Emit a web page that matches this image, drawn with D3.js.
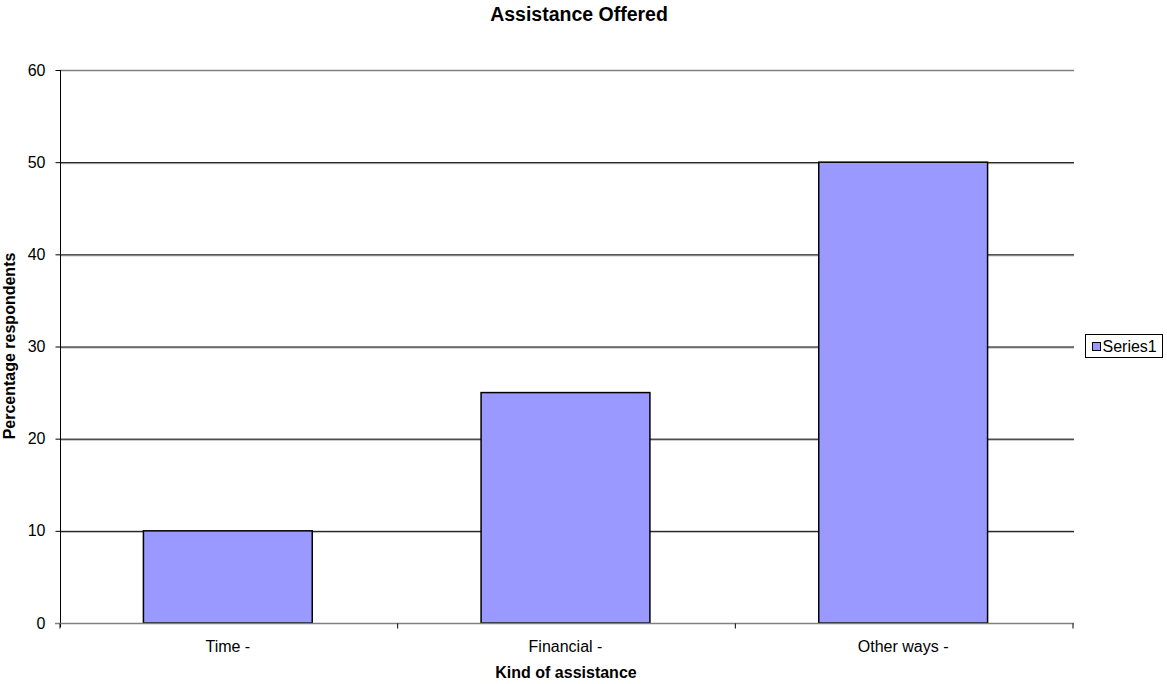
<!DOCTYPE html>
<html>
<head>
<meta charset="utf-8">
<script src="https://cdn.jsdelivr.net/npm/d3@7"></script>
<style>
  body { margin: 0; background: #fff; }
  text { font-family: "Liberation Sans", Arial, sans-serif; }
</style>
</head>
<body>
<script>
let w = 1167;
let h = 684;

let categories = ["Time -", "Financial -", "Other ways -"];
let values = [10, 25, 50];
let yTicks = [0, 10, 20, 30, 40, 50, 60];
let seriesName = "Series1";

let plotLeft = 60, plotRight = 1073, plotTop = 70, plotBottom = 623;

let svg = d3.select("body")
  .append("svg")
  .attr("width", w)
  .attr("height", h);

let xScale = d3.scaleBand()
  .domain(categories)
  .range([plotLeft, plotRight])
  .paddingInner(0.5)
  .paddingOuter(0.25);

let yScale = d3.scaleLinear()
  .domain([0, 60])
  .range([plotBottom, plotTop]);

// gridlines (black with a soft grey edge under them)
svg.selectAll("line.gridshadow")
  .data(yTicks.filter(d => d > 0 && d < 60))
  .enter()
  .append("line")
  .attr("class", "gridshadow")
  .attr("x1", plotLeft)
  .attr("x2", plotRight + 1)
  .attr("y1", d => yScale(d) + 1.5)
  .attr("y2", d => yScale(d) + 1.5)
  .attr("stroke", "#b0b0b0")
  .attr("stroke-width", 1);

svg.selectAll("line.grid")
  .data(yTicks.filter(d => d > 0))
  .enter()
  .append("line")
  .attr("class", "grid")
  .attr("x1", plotLeft)
  .attr("x2", plotRight + 1)
  .attr("y1", d => yScale(d) + 0.5)
  .attr("y2", d => yScale(d) + 0.5)
  .attr("stroke", d => d == 60 ? "#808080" : "#000")
  .attr("stroke-width", d => d == 60 ? 1.5 : 1);

// bars
svg.selectAll("rect.bar")
  .data(values)
  .enter()
  .append("rect")
  .attr("class", "bar")
  .attr("x", (d, i) => xScale(categories[i]) - 1)
  .attr("y", d => yScale(d))
  .attr("width", xScale.bandwidth())
  .attr("height", d => yScale(0) - yScale(d))
  .attr("fill", "#9999ff")
  .attr("stroke", "#000")
  .attr("stroke-width", 1.5);

// y axis
let yAxis = d3.axisLeft(yScale)
  .tickValues(yTicks)
  .tickSize(5)
  .tickPadding(10);

let gy = svg.append("g")
  .attr("transform", "translate(" + (plotLeft + 0.5) + ",0)")
  .call(yAxis);
gy.select(".domain").attr("d", "M0," + plotTop + "V" + (plotBottom + 4)).attr("stroke", "#000");
gy.selectAll("text").attr("font-size", "16px").attr("fill", "#000").style("font-family", "'Liberation Sans', Arial, sans-serif");

// x axis
let gx = svg.append("g")
  .attr("transform", "translate(0," + (plotBottom + 0.5) + ")");
gx.append("line")
  .attr("x1", plotLeft - 5)
  .attr("x2", plotRight + 1)
  .attr("stroke", "#808080")
  .attr("stroke-width", 1.5);
let xTickPos = d3.range(categories.length + 1).map(i => plotLeft + i * (plotRight - plotLeft) / categories.length);
gx.selectAll("line.tick")
  .data(xTickPos)
  .enter()
  .append("line")
  .attr("class", "tick")
  .attr("x1", d => d)
  .attr("x2", d => d)
  .attr("y1", 0)
  .attr("y2", 5)
  .attr("stroke", "#000");
gx.selectAll("text")
  .data(categories)
  .enter()
  .append("text")
  .attr("x", d => xScale(d) + xScale.bandwidth() / 2 - 1)
  .attr("y", 28)
  .attr("text-anchor", "middle")
  .attr("font-size", "16px")
  .text(d => d);

// title and axis labels
svg.append("text")
  .attr("x", 579)
  .attr("y", 21)
  .attr("text-anchor", "middle")
  .attr("font-size", "19.5px")
  .attr("font-weight", "bold")
  .text("Assistance Offered");

svg.append("text")
  .attr("x", 566)
  .attr("y", 678)
  .attr("text-anchor", "middle")
  .attr("font-size", "16px")
  .attr("font-weight", "bold")
  .text("Kind of assistance");

svg.append("text")
  .attr("transform", "translate(15,346) rotate(-90)")
  .attr("text-anchor", "middle")
  .attr("font-size", "16px")
  .attr("font-weight", "bold")
  .text("Percentage respondents");

// legend
let lg = svg.append("g").attr("transform", "translate(1085.5,334.5)");
lg.append("rect")
  .attr("width", 77)
  .attr("height", 23)
  .attr("fill", "#fff")
  .attr("stroke", "#000");
lg.append("rect")
  .attr("x", 7)
  .attr("y", 8)
  .attr("width", 8)
  .attr("height", 8)
  .attr("fill", "#9999ff")
  .attr("stroke", "#000");
lg.append("text")
  .attr("x", 17)
  .attr("y", 17.5)
  .attr("font-size", "16px")
  .text(seriesName);
</script>
</body>
</html>
